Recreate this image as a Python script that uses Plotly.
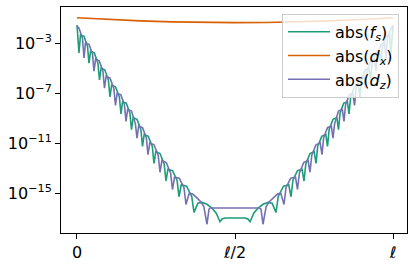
import plotly.graph_objects as go

# abs(f_s): positions along the span (0 .. l) and log10 of the magnitude
fs_x = [0, 0.0063, 0.0111, 0.0222, 0.0332, 0.0380, 0.0430, 0.0546, 0.0661, 0.0712,
        0.0763, 0.0878, 0.0994, 0.1044, 0.1097, 0.1218, 0.1340, 0.1392, 0.1443, 0.1559,
        0.1674, 0.1725, 0.1777, 0.1899, 0.2021, 0.2073, 0.2127, 0.2255, 0.2383, 0.2437,
        0.2494, 0.2627, 0.2759, 0.2816, 0.2878, 0.3022, 0.3166, 0.3228, 0.3299, 0.3465,
        0.3631, 0.3703, 0.3826, 0.3949, 0.4114, 0.4278, 0.4402, 0.4525, 0.4589, 0.4684,
        0.5316, 0.5411, 0.5475, 0.5598, 0.5722, 0.5886, 0.6051, 0.6174, 0.6297, 0.6369,
        0.6535, 0.6701, 0.6772, 0.6834, 0.6978, 0.7122, 0.7184, 0.7241, 0.7373, 0.7506,
        0.7563, 0.7617, 0.7745, 0.7873, 0.7927, 0.7979, 0.8101, 0.8223, 0.8275, 0.8326,
        0.8441, 0.8557, 0.8608, 0.8660, 0.8782, 0.8903, 0.8956, 0.9006, 0.9122, 0.9237,
        0.9288, 0.9339, 0.9454, 0.9570, 0.9620, 0.9668, 0.9778, 0.9889, 0.9937, 1.0]
fs_log = [-1.56, -3.8, -2.35, -2.46, -3.25, -4.61, -3.65, -3.79, -4.59, -5.96,
          -5.01, -5.14, -5.95, -7.31, -6.37, -6.50, -7.31, -8.67, -7.70, -7.81,
          -8.59, -9.94, -8.98, -9.11, -9.91, -11.27, -10.32, -10.47, -11.28, -12.64,
          -11.69, -11.84, -12.67, -14.04, -13.10, -13.22, -13.97, -15.30, -14.34, -14.46,
          -15.27, -16.55, -15.81, -15.75, -15.90, -16.23, -16.6, -17.3, -17.08, -17.0,
          -17.0, -17.08, -17.3, -16.6, -16.23, -15.90, -15.75, -15.81, -16.55, -15.27,
          -14.46, -14.34, -15.30, -13.97, -13.22, -13.10, -14.04, -12.67, -11.84, -11.69,
          -12.64, -11.28, -10.47, -10.32, -11.27, -9.91, -9.11, -8.98, -9.94, -8.59,
          -7.81, -7.70, -8.67, -7.31, -6.50, -6.37, -7.31, -5.95, -5.14, -5.01,
          -5.96, -4.59, -3.79, -3.65, -4.61, -3.25, -2.46, -2.35, -3.8, -1.56]

# abs(d_x)
dx_x = [0, 0.1, 0.2, 0.3, 0.4, 0.5, 0.6, 0.7, 0.8, 0.9, 1.0]
dx_log = [-0.98, -1.12, -1.23, -1.31, -1.36, -1.37, -1.36, -1.31, -1.23, -1.12, -0.98]

# abs(d_z)
dz_x = [0, 0.0063, 0.0174, 0.0222, 0.0269, 0.0380, 0.0491, 0.0538, 0.0589, 0.0704,
        0.0820, 0.0870, 0.0923, 0.1044, 0.1166, 0.1218, 0.1269, 0.1384, 0.1500, 0.1551,
        0.1603, 0.1725, 0.1847, 0.1899, 0.1951, 0.2073, 0.2195, 0.2247, 0.2304, 0.2437,
        0.2570, 0.2627, 0.2687, 0.2824, 0.2962, 0.3022, 0.3085, 0.3236, 0.3386, 0.3449,
        0.3549, 0.3649, 0.3782, 0.3915, 0.4014, 0.4114, 0.4177, 0.4225,
        0.5775, 0.5823, 0.5886, 0.5986, 0.6085, 0.6218, 0.6351, 0.6451, 0.6551, 0.6614,
        0.6764, 0.6915, 0.6978, 0.7038, 0.7176, 0.7313, 0.7373, 0.7430, 0.7563, 0.7696,
        0.7753, 0.7805, 0.7927, 0.8049, 0.8101, 0.8153, 0.8275, 0.8397, 0.8449, 0.8500,
        0.8616, 0.8731, 0.8782, 0.8834, 0.8956, 0.9077, 0.9130, 0.9180, 0.9296, 0.9411,
        0.9462, 0.9509, 0.9620, 0.9731, 0.9778, 0.9826, 0.9937, 1.0]
dz_log = [-1.65, -1.82, -2.61, -4.2, -3.0, -3.11, -3.90, -5.25, -4.30, -4.43,
          -5.24, -6.61, -5.66, -5.81, -6.64, -8.0, -7.04, -7.14, -7.92, -9.27,
          -8.31, -8.44, -9.45, -10.61, -9.65, -9.77, -10.58, -11.94, -10.99, -11.14,
          -11.97, -13.34, -12.40, -12.56, -13.39, -14.72, -13.74, -13.82, -14.58, -15.92,
          -15.04, -15.07, -15.35, -15.70, -16.09, -17.5, -16.3, -16.2,
          -16.2, -16.3, -17.5, -16.09, -15.70, -15.35, -15.07, -15.04, -15.92, -14.58,
          -13.82, -13.74, -14.72, -13.39, -12.56, -12.40, -13.34, -11.97, -11.14, -10.99,
          -11.94, -10.58, -9.77, -9.65, -10.61, -9.45, -8.44, -8.31, -9.27, -7.92,
          -7.14, -7.04, -8.0, -6.64, -5.81, -5.66, -6.61, -5.24, -4.43, -4.30,
          -5.25, -3.90, -3.11, -3.0, -4.2, -2.61, -1.82, -1.65]

x_tickvals = [0, 0.5, 1]
x_ticktext = ["0", "ℓ/2", "ℓ"]
y_tickvals = [1e-3, 1e-7, 1e-11, 1e-15]
y_ticktext = ["10<sup>−3</sup>", "10<sup>−7</sup>", "10<sup>−11</sup>", "10<sup>−15</sup>"]

names = ["abs(<i>f<sub>s</sub></i>)", "abs(<i>d<sub>x</sub></i>)", "abs(<i>d<sub>z</sub></i>)"]
colors = ["#1b9e77", "#d95f02", "#7570b3"]

fig = go.Figure()
for xs, logs, name, col in [(fs_x, fs_log, names[0], colors[0]),
                            (dx_x, dx_log, names[1], colors[1]),
                            (dz_x, dz_log, names[2], colors[2])]:
    fig.add_trace(go.Scatter(x=xs, y=[10 ** v for v in logs], mode="lines", name=name,
                             line=dict(color=col, width=1.6)))

axis_common = dict(showline=True, linecolor="black", linewidth=1, mirror=True,
                   ticks="outside", ticklen=5, tickcolor="black", tickwidth=1,
                   showgrid=False, zeroline=False, automargin=False,
                   tickfont=dict(family="DejaVu Sans", size=16, color="black"))

fig.update_layout(
    template="none",
    width=416, height=264,
    margin=dict(l=61, r=9, t=7, b=31, autoexpand=False),
    paper_bgcolor="white", plot_bgcolor="white",
    font=dict(family="DejaVu Sans", size=16, color="black"),
    showlegend=True,
    legend=dict(x=0.977, y=0.97, xanchor="right", yanchor="top",
                bgcolor="rgba(255,255,255,0.8)", bordercolor="#cccccc", borderwidth=1,
                font=dict(family="DejaVu Sans", size=16, color="black"),
                tracegroupgap=0, itemwidth=42),
    xaxis=dict(range=[-0.0506, 1.0443], tickvals=x_tickvals, ticktext=x_ticktext, **axis_common),
    yaxis=dict(type="log", range=[-18.2, -0.12], tickvals=y_tickvals, ticktext=y_ticktext,
               **axis_common),
)

fig.write_html("out.html", config={"displayModeBar": False},
               post_script="document.body.style.margin='0px';document.body.style.padding='0px';")
